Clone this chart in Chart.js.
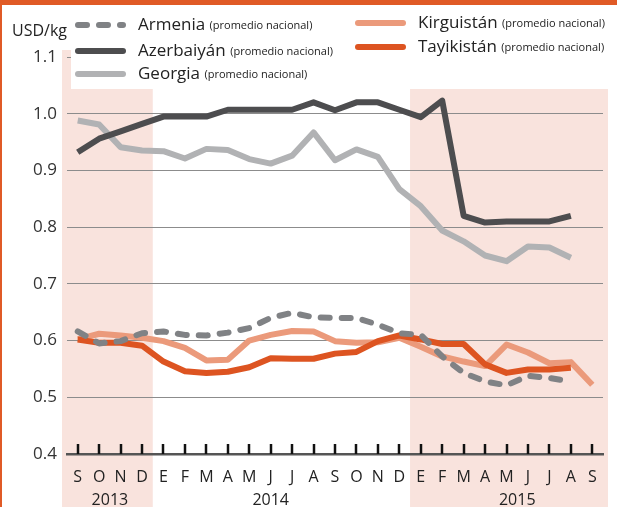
<!DOCTYPE html>
<html>
<head>
<meta charset="utf-8">
<script src="https://cdn.jsdelivr.net/npm/chart.js@4.4.0/dist/chart.umd.min.js"></script>
<style>
  html, body { margin: 0; padding: 0; background: #fff; }
  canvas { display: block; }
</style>
</head>
<body>
<canvas id="myChart" width="617" height="507"></canvas>
<script>
// months: S 2013 ... S 2015
var meses = ['S','O','N','D','E','F','M','A','M','J','J','A','S','O','N','D','E','F','M','A','M','J','J','A','S'];
var anios = ['2013', '2014', '2015'];
var yTicks = [0.4, 0.5, 0.6, 0.7, 0.8, 0.9, 1.0, 1.1];

var armenia    = [0.616,0.595,0.599,0.613,0.616,0.610,0.609,0.614,0.622,0.640,0.649,0.641,0.640,0.640,0.628,0.613,0.610,0.572,0.543,0.528,0.521,0.538,0.534,0.528];
var azerbaiyan = [0.932,0.956,0.969,0.982,0.995,0.995,0.995,1.007,1.007,1.007,1.007,1.020,1.006,1.020,1.020,1.007,0.994,1.023,0.820,0.808,0.810,0.810,0.810,0.820];
var georgia    = [0.988,0.981,0.941,0.935,0.934,0.921,0.938,0.936,0.920,0.912,0.926,0.967,0.918,0.937,0.924,0.867,0.837,0.794,0.775,0.750,0.740,0.766,0.764,0.746];
var kirguistan = [0.602,0.612,0.609,0.605,0.599,0.587,0.565,0.566,0.600,0.610,0.617,0.616,0.599,0.596,0.597,0.605,0.589,0.572,0.563,0.555,0.593,0.579,0.560,0.562,0.522];
var tayikistan = [0.602,0.596,0.596,0.591,0.563,0.546,0.543,0.545,0.553,0.569,0.568,0.568,0.577,0.580,0.599,0.609,0.602,0.594,0.594,0.558,0.543,0.549,0.549,0.552];

var C_ARM = '#808285';
var C_AZE = '#4d4d4f';
var C_GEO = '#b1b2b4';
var C_KIR = '#eb9a7b';
var C_TAY = '#dd5421';
var C_ORANGE = '#e05a26';
var C_SHADE = '#f9e3dd';

Chart.defaults.font.family = "'Open Sans', sans-serif";

var leyenda = [
  { name: 'Armenia', color: C_ARM, dash: true, x: 75, y: 25 },
  { name: 'Azerbaiyán', color: C_AZE, dash: false, x: 75, y: 51 },
  { name: 'Georgia', color: C_GEO, dash: false, x: 75, y: 74 },
  { name: 'Kirguistán', color: C_KIR, dash: false, x: 355, y: 23 },
  { name: 'Tayikistán', color: C_TAY, dash: false, x: 355, y: 47 }
];

// shaded bands, labels, tick marks, legend
var decoPlugin = {
  id: 'deco',
  beforeDraw: function (chart) {
    var ctx = chart.ctx;
    var xs = chart.scales.x;
    var a = chart.chartArea;
    var b1 = (xs.getPixelForValue(3) + xs.getPixelForValue(4)) / 2;
    var b2 = (xs.getPixelForValue(15) + xs.getPixelForValue(16)) / 2;
    ctx.save();
    ctx.fillStyle = C_SHADE;
    ctx.fillRect(a.left - 5, a.top - 7, b1 - a.left + 5, chart.height);
    ctx.fillRect(b2, a.top - 7, a.right + 5 - b2, chart.height);
    ctx.restore();
  },
  afterDraw: function (chart) {
    var ctx = chart.ctx;
    var xs = chart.scales.x;
    var ys = chart.scales.y;
    var a = chart.chartArea;
    ctx.save();

    // white legend box
    ctx.fillStyle = '#fff';
    ctx.fillRect(a.left + 4, 0, chart.width, 89);

    // tick marks pointing up from the axis
    var y0 = ys.getPixelForValue(0.4);
    ctx.strokeStyle = '#111';
    ctx.lineWidth = 2.5;
    for (var i = 0; i < meses.length; i++) {
      var px = Math.round(xs.getPixelForValue(i));
      ctx.beginPath();
      ctx.moveTo(px, y0 - 10);
      ctx.lineTo(px, y0);
      ctx.stroke();
    }

    // years
    ctx.fillStyle = '#222';
    ctx.font = "16px 'Open Sans'";
    ctx.textAlign = 'center';
    ctx.textBaseline = 'middle';
    var yy = 500;
    ctx.fillText(anios[0], (xs.getPixelForValue(0) + xs.getPixelForValue(3)) / 2, yy);
    ctx.fillText(anios[1], xs.getPixelForValue(9), yy);
    ctx.fillText(anios[2], xs.getPixelForValue(20.5), yy);

    // unit
    ctx.textAlign = 'left';
    ctx.fillText('USD/kg', 12, 31);

    // legend
    leyenda.forEach(function (l) {
      ctx.strokeStyle = l.color;
      ctx.lineWidth = 6;
      ctx.lineCap = 'round';
      ctx.setLineDash(l.dash ? [9, 12] : []);
      ctx.beginPath();
      ctx.moveTo(l.x + 3, l.y);
      ctx.lineTo(l.x + 48, l.y);
      ctx.stroke();
      ctx.setLineDash([]);
      ctx.fillStyle = '#222';
      ctx.font = "17px 'Open Sans'";
      ctx.textAlign = 'left';
      ctx.fillText(l.name, l.x + 63, l.y);
      var w = ctx.measureText(l.name + ' ').width;
      ctx.font = "11px 'Open Sans'";
      ctx.fillText('(promedio nacional)', l.x + 63 + w, l.y + 1);
    });

    // orange frame
    ctx.fillStyle = C_ORANGE;
    ctx.fillRect(0, 0, chart.width, 5);
    ctx.fillRect(0, 0, 2, chart.height);
    ctx.restore();
  }
};

var ctx = document.getElementById('myChart').getContext('2d');
var myChart = new Chart(ctx, {
  type: 'line',
  data: {
    labels: meses,
    datasets: [
      { label: 'Armenia', data: armenia, borderColor: C_ARM, borderDash: [9, 12], borderCapStyle: 'round' },
      { label: 'Azerbaiyán', data: azerbaiyan, borderColor: C_AZE },
      { label: 'Georgia', data: georgia, borderColor: C_GEO },
      { label: 'Tayikistán', data: tayikistan, borderColor: C_TAY },
      { label: 'Kirguistán', data: kirguistan, borderColor: C_KIR }
    ]
  },
  options: {
    responsive: false,
    animation: false,
    devicePixelRatio: 1,
    layout: { padding: { left: 0, right: 14, top: 57, bottom: 0 } },
    elements: {
      line: { borderWidth: 6, tension: 0, borderJoinStyle: 'round', fill: false },
      point: { radius: 0 }
    },
    plugins: {
      legend: { display: false },
      tooltip: { enabled: false }
    },
    scales: {
      x: {
        offset: true,
        grid: { display: false },
        border: { display: true, color: '#555', width: 2.5 },
        ticks: { color: '#222', font: { size: 16 }, padding: 6, maxRotation: 0, autoSkip: false },
        afterFit: function (s) { s.height = 53; }
      },
      y: {
        min: 0.4,
        max: 1.1,
        afterBuildTicks: function (s) { s.ticks = yTicks.map(function (v) { return { value: v }; }); },
        grid: { color: '#8c8c8c', lineWidth: 1, drawTicks: false },
        border: { display: false },
        ticks: {
          color: '#333',
          font: { size: 17 },
          padding: 10,
          callback: function (v) { return Number(v).toFixed(1); }
        },
        afterFit: function (s) { s.width = 67; }
      }
    }
  },
  plugins: [decoPlugin]
});
</script>
</body>
</html>
